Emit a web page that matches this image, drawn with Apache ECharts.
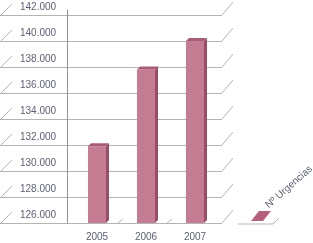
<!DOCTYPE html>
<html><head><meta charset="utf-8">
<script src="https://cdn.jsdelivr.net/npm/echarts@6/dist/echarts.min.js"></script>
<style>html,body{margin:0;padding:0;background:#fff}#c{width:313px;height:243px}</style>
</head><body><div id="c"></div>
<script>
const categories = ['2005', '2006', '2007'];
const urgencias = [131900, 137800, 140000];
const seriesName = 'Nº Urgencias';
const yMin = 126000, yMax = 142000, yStep = 2000;
const tickValues = [126000, 128000, 130000, 132000, 134000, 136000, 138000, 140000, 142000];

const FONT = 'Liberation Sans, Arial, sans-serif';
const TXT = '#5c6073';
const GRID = '#b4b4b4';

const chart = echarts.init(document.getElementById('c'));
chart.setOption({
  animation: false,
  textStyle: {fontFamily: FONT},
  grid: [
    {left: 0, width: 222, top: 15, bottom: 20},
    {left: 72.5, width: 147, top: 15, bottom: 20},
    {left: 67, width: 10, top: 10, bottom: 20}
  ],
  xAxis: [
    {gridIndex: 0, type: 'value', min: 0, max: 222, show: false},
    {gridIndex: 1, type: 'category', data: categories,
     axisLine: {show: false}, axisTick: {show: false},
     axisLabel: {color: TXT, fontSize: 10, margin: 9, fontFamily: FONT}},
    {gridIndex: 2, type: 'value', min: 0, max: 1, show: false}
  ],
  yAxis: [
    {gridIndex: 0, type: 'value', min: yMin, max: yMax, interval: yStep,
     axisLine: {show: false}, axisTick: {show: false},
     splitLine: {show: true, lineStyle: {color: GRID, width: 1}},
     axisLabel: {inside: true, margin: 20, color: TXT, fontSize: 10, fontFamily: FONT,
       verticalAlign: 'bottom', padding: [0, 0, 3, 0],
       showMaxLabel: true, showMinLabel: true,
       formatter: v => (v / 1000).toFixed(3)}},
    {gridIndex: 1, type: 'value', min: yMin, max: yMax, interval: yStep, show: false},
    {gridIndex: 2, type: 'value', min: 0, max: 1, show: true,
     axisLine: {show: true, lineStyle: {color: '#8c8e9a', width: 1}},
     axisTick: {show: false}, axisLabel: {show: false}, splitLine: {show: false}}
  ],
  graphic: [
    {type: 'polygon', shape: {points: [[251,221],[259,211],[271,211],[263,221]]},
     style: {fill: '#b5607e'}},
    {type: 'polyline', shape: {points: [[238,224],[273,224],[279,218]]},
     style: {stroke: GRID, lineWidth: 1, fill: null}},
    {type: 'text', x: 289, y: 187, rotation: 0.72,
     style: {text: seriesName, fill: TXT, font: '10px ' + FONT, align: 'center', verticalAlign: 'middle'}}
  ],
  series: [
    {
      type: 'custom', xAxisIndex: 0, yAxisIndex: 0, clip: false, silent: true,
      data: tickValues.map(v => [0, v]),
      renderItem: (params, api) => {
        const l = api.coord([0, api.value(1)]);
        const r = api.coord([222, api.value(1)]);
        return {type: 'group', children: [
          {type: 'line', shape: {x1: l[0] + 1, y1: l[1], x2: l[0] + 12, y2: l[1] - 11},
           style: {stroke: GRID, lineWidth: 1}},
          {type: 'line', shape: {x1: r[0], y1: r[1], x2: r[0] + 11, y2: r[1] - 13},
           style: {stroke: GRID, lineWidth: 1}}
        ]};
      }
    },
    {
      type: 'custom', xAxisIndex: 1, yAxisIndex: 1, clip: false, silent: true,
      data: categories.slice(0, 2).map((c, i) => [i, yMin]),
      renderItem: (params, api) => {
        const p = api.coord([api.value(0), yMin]);
        const bw = api.size([1, 0])[0];
        const bx = p[0] + bw / 2;
        return {type: 'line', shape: {x1: bx - 3.5, y1: p[1], x2: bx + 1.5, y2: p[1] - 4},
          style: {stroke: GRID, lineWidth: 1}};
      }
    },
    {
      name: seriesName,
      type: 'custom', xAxisIndex: 1, yAxisIndex: 1, clip: false,
      data: urgencias.map((v, i) => [i, v]),
      renderItem: (params, api) => {
        const t = api.coord([api.value(0), api.value(1)]);
        const b = api.coord([api.value(0), yMin]);
        const w = 18, d = 3;
        const x0 = t[0] - w / 2;
        return {type: 'group', children: [
          {type: 'rect', shape: {x: x0, y: t[1], width: w, height: b[1] - t[1]},
           style: {fill: '#c47c93'}},
          {type: 'polygon', shape: {points: [[x0, t[1]], [x0 + d, t[1] - d], [x0 + w + d, t[1] - d], [x0 + w, t[1]]]},
           style: {fill: '#a95c75'}},
          {type: 'polygon', shape: {points: [[x0 + w, t[1]], [x0 + w + d, t[1] - d], [x0 + w + d, b[1] - d], [x0 + w, b[1]]]},
           style: {fill: '#9a4d66'}}
        ]};
      }
    }
  ]
});
</script></body></html>
